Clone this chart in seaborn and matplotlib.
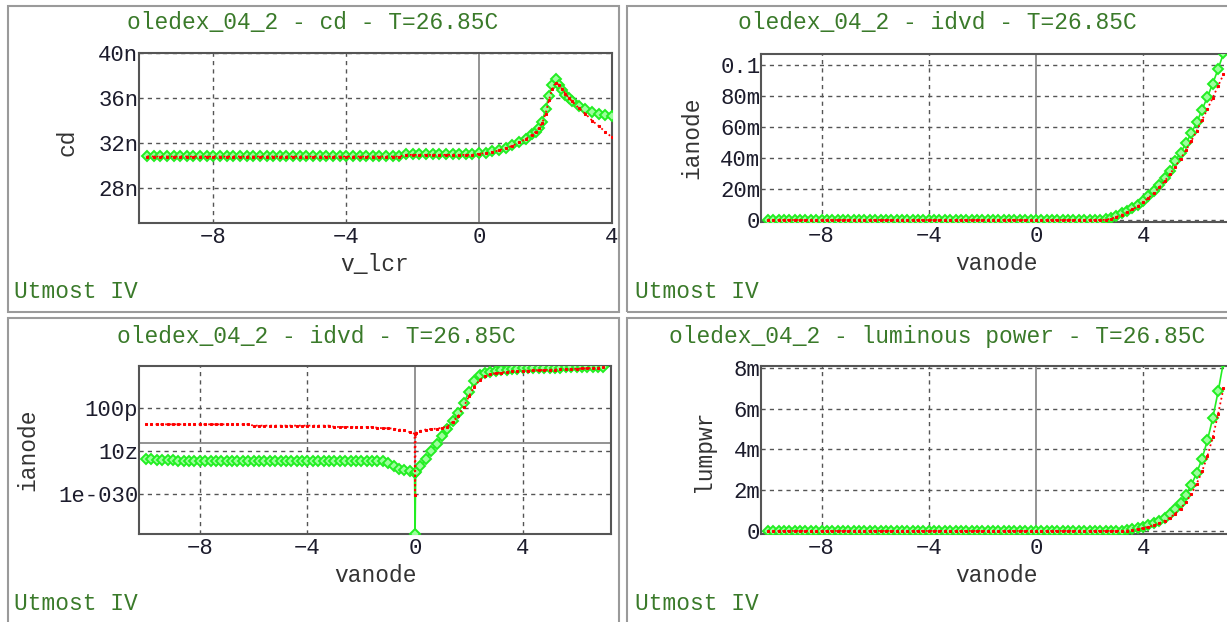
import numpy as np
import pandas as pd
import matplotlib
matplotlib.use("Agg")
import matplotlib.pyplot as plt
import seaborn as sns
from matplotlib.ticker import FixedLocator, FixedFormatter, MultipleLocator, NullLocator
from matplotlib.patches import Rectangle

# ---------------- data ----------------
# top-left: cd vs v_lcr  (values in nF units)
cd_v = [-10.0, -9.8, -9.6, -9.4, -9.2, -9.0, -8.8, -8.6, -8.4, -8.2, -8.0, -7.8, -7.6, -7.4, -7.2,
        -7.0, -6.8, -6.6, -6.4, -6.2, -6.0, -5.8, -5.6, -5.4, -5.2, -5.0, -4.8, -4.6, -4.4, -4.2,
        -4.0, -3.8, -3.6, -3.4, -3.2, -3.0, -2.8, -2.6, -2.4, -2.2, -2.0, -1.8, -1.6, -1.4, -1.2,
        -1.0, -0.8, -0.6, -0.4, -0.2, 0.0, 0.2, 0.4, 0.6, 0.8, 1.0, 1.2, 1.4, 1.6, 1.7, 1.8, 1.9,
        2.0, 2.1, 2.2, 2.3, 2.4, 2.5, 2.6, 2.7, 2.8, 3.0, 3.2, 3.4, 3.6, 3.8, 4.0]
cd_sim_n = [30.85, 30.85, 30.85, 30.85, 30.85, 30.85, 30.85, 30.85, 30.85, 30.85, 30.85, 30.85, 30.85,
            30.85, 30.85, 30.85, 30.85, 30.85, 30.85, 30.85, 30.85, 30.85, 30.85, 30.85, 30.85, 30.85,
            30.85, 30.85, 30.85, 30.85, 30.85, 30.85, 30.85, 30.85, 30.85, 30.85, 30.85, 30.85, 30.85,
            31.0, 31.0, 31.0, 31.0, 31.0, 31.0, 31.0, 31.0, 31.0, 31.0, 31.0, 31.1, 31.15, 31.25, 31.4,
            31.6, 31.8, 32.1, 32.4, 32.8, 33.0, 33.3, 33.9, 35.0, 36.2, 37.2, 37.65, 37.2, 36.7, 36.3,
            36.0, 35.7, 35.3, 35.0, 34.8, 34.6, 34.5, 34.4]
cd_meas_n = [30.8, 30.8, 30.8, 30.8, 30.8, 30.8, 30.8, 30.8, 30.8, 30.8, 30.8, 30.8, 30.8,
             30.8, 30.8, 30.8, 30.8, 30.8, 30.8, 30.8, 30.8, 30.8, 30.8, 30.8, 30.8, 30.8,
             30.8, 30.8, 30.8, 30.8, 30.8, 30.8, 30.8, 30.8, 30.8, 30.8, 30.8, 30.8, 30.8,
             30.95, 30.95, 30.95, 30.95, 30.95, 30.95, 30.95, 30.95, 30.95, 30.95, 30.95, 31.05, 31.1,
             31.2, 31.35, 31.55, 31.75, 32.05, 32.35, 32.75, 33.0, 33.3, 33.8, 34.6, 35.8, 36.8, 37.3,
             37.2, 36.8, 36.4, 36.0, 35.7, 35.1, 34.6, 34.0, 33.5, 33.0, 32.5]

# anode sweep for the two linear idvd / luminous power plots
va = [-10.0, -9.8, -9.6, -9.4, -9.2, -9.0, -8.8, -8.6, -8.4, -8.2, -8.0, -7.8, -7.6, -7.4, -7.2,
      -7.0, -6.8, -6.6, -6.4, -6.2, -6.0, -5.8, -5.6, -5.4, -5.2, -5.0, -4.8, -4.6, -4.4, -4.2,
      -4.0, -3.8, -3.6, -3.4, -3.2, -3.0, -2.8, -2.6, -2.4, -2.2, -2.0, -1.8, -1.6, -1.4, -1.2,
      -1.0, -0.8, -0.6, -0.4, -0.2, 0.0, 0.2, 0.4, 0.6, 0.8, 1.0, 1.2, 1.4, 1.6, 1.8, 2.0, 2.2,
      2.4, 2.6, 2.8, 3.0, 3.2, 3.4, 3.6, 3.8, 4.0, 4.2, 4.4, 4.6, 4.8, 5.0, 5.2, 5.4, 5.6, 5.8,
      6.0, 6.2, 6.4, 6.6, 6.8, 7.0]
ia_sim_m = [
    0.0, 0.0, 0.0, 0.0, 0.0, 0.0, 0.0, 0.0, 0.0, 0.0, 0.0, 0.0, 0.0, 0.0, 0.0, 0.0, 0.0, 0.0, 0.0, 0.0,
    0.0, 0.0, 0.0, 0.0, 0.0, 0.0, 0.0, 0.0, 0.0, 0.0, 0.0, 0.0, 0.0, 0.0, 0.0, 0.0, 0.0, 0.0, 0.0, 0.0,
    0.0, 0.0, 0.0, 0.0, 0.0, 0.0, 0.0, 0.0, 0.0, 0.0, 0.0, 0.0, 0.0, 0.0, 0.0, 0.0, 0.0, 0.0, 0.0, 0.0,
    0.0, 0.0, 0.0,
    0.5, 1.5, 2.8, 4.2, 5.8, 7.5, 9.8, 12.5, 15.5, 18.8, 22.5, 27.0, 31.5, 38.0, 43.5, 49.5, 56.0,
    63.0, 71.0, 79.5, 88.0, 97.5, 107.5]
ia_meas_m = [
    0.0, 0.0, 0.0, 0.0, 0.0, 0.0, 0.0, 0.0, 0.0, 0.0, 0.0, 0.0, 0.0, 0.0, 0.0, 0.0, 0.0, 0.0, 0.0, 0.0,
    0.0, 0.0, 0.0, 0.0, 0.0, 0.0, 0.0, 0.0, 0.0, 0.0, 0.0, 0.0, 0.0, 0.0, 0.0, 0.0, 0.0, 0.0, 0.0, 0.0,
    0.0, 0.0, 0.0, 0.0, 0.0, 0.0, 0.0, 0.0, 0.0, 0.0, 0.0, 0.0, 0.0, 0.0, 0.0, 0.0, 0.0, 0.0, 0.0, 0.0,
    0.0, 0.0, 0.0,
    0.2, 0.8, 2.0, 3.4, 5.0, 6.8, 8.8, 11.5, 14.3, 17.5, 21.0, 25.0, 29.5, 34.5, 39.5, 45.0, 51.0,
    57.5, 64.5, 71.5, 79.0, 86.5, 94.0]
lum_sim_m = [
    0.0, 0.0, 0.0, 0.0, 0.0, 0.0, 0.0, 0.0, 0.0, 0.0, 0.0, 0.0, 0.0, 0.0, 0.0, 0.0, 0.0, 0.0, 0.0, 0.0,
    0.0, 0.0, 0.0, 0.0, 0.0, 0.0, 0.0, 0.0, 0.0, 0.0, 0.0, 0.0, 0.0, 0.0, 0.0, 0.0, 0.0, 0.0, 0.0, 0.0,
    0.0, 0.0, 0.0, 0.0, 0.0, 0.0, 0.0, 0.0, 0.0, 0.0, 0.0, 0.0, 0.0, 0.0, 0.0, 0.0, 0.0, 0.0, 0.0, 0.0,
    0.0, 0.0, 0.0,
    0.0, 0.0, 0.0, 0.02, 0.05, 0.09, 0.14, 0.2, 0.28, 0.38, 0.5, 0.66, 0.85, 1.08, 1.38, 1.78, 2.25,
    2.85, 3.55, 4.45, 5.55, 6.85, 8.3]
lum_meas_m = [
    0.0, 0.0, 0.0, 0.0, 0.0, 0.0, 0.0, 0.0, 0.0, 0.0, 0.0, 0.0, 0.0, 0.0, 0.0, 0.0, 0.0, 0.0, 0.0, 0.0,
    0.0, 0.0, 0.0, 0.0, 0.0, 0.0, 0.0, 0.0, 0.0, 0.0, 0.0, 0.0, 0.0, 0.0, 0.0, 0.0, 0.0, 0.0, 0.0, 0.0,
    0.0, 0.0, 0.0, 0.0, 0.0, 0.0, 0.0, 0.0, 0.0, 0.0, 0.0, 0.0, 0.0, 0.0, 0.0, 0.0, 0.0, 0.0, 0.0, 0.0,
    0.0, 0.0, 0.0,
    0.0, 0.0, 0.0, 0.0, 0.02, 0.05, 0.09, 0.14, 0.2, 0.28, 0.38, 0.5, 0.65, 0.85, 1.1, 1.42, 1.82,
    2.32, 2.92, 3.68, 4.6, 5.75, 7.0]

# bottom-left: log idvd (log10 of ianode)
va_log = [-10.0, -9.8, -9.6, -9.4, -9.2, -9.0, -8.8, -8.6, -8.4, -8.2, -8.0, -7.8, -7.6, -7.4, -7.2,
          -7.0, -6.8, -6.6, -6.4, -6.2, -6.0, -5.8, -5.6, -5.4, -5.2, -5.0, -4.8, -4.6, -4.4, -4.2,
          -4.0, -3.8, -3.6, -3.4, -3.2, -3.0, -2.8, -2.6, -2.4, -2.2, -2.0, -1.8, -1.6, -1.4, -1.2,
          -1.0, -0.8, -0.6, -0.4, -0.2, -0.02, 0.0, 0.02, 0.2, 0.4, 0.6, 0.8, 1.0, 1.2, 1.4, 1.6, 1.8,
          2.0, 2.2, 2.4, 2.6, 2.8, 3.0, 3.2, 3.4, 3.6, 3.8, 4.0, 4.2, 4.4, 4.6, 4.8, 5.0, 5.2, 5.4,
          5.6, 5.8, 6.0, 6.2, 6.4, 6.6, 6.8, 7.0]
ia_sim_log10 = [-21.8, -21.9, -22.0, -22.0, -22.0, -22.0, -22.3, -22.3, -22.3, -22.3, -22.3, -22.3,
                -22.3, -22.3, -22.3, -22.3, -22.3, -22.3, -22.3, -22.3, -22.3, -22.3, -22.3, -22.3,
                -22.3, -22.3, -22.3, -22.3, -22.3, -22.3, -22.3, -22.3, -22.3, -22.3, -22.3, -22.3,
                -22.3, -22.3, -22.3, -22.3, -22.3, -22.3, -22.3, -22.3, -22.3,
                -22.8, -23.5, -24.1, -24.4, -24.7, -25.0, -39.3, -24.9,
                -23.6, -21.9, -20.1, -18.3, -16.6, -14.8, -13.0, -11.1, -8.9, -6.3, -3.8, -2.3, -1.8,
                -1.55, -1.4, -1.25, -1.1, -1.0, -0.9, -0.8, -0.75, -0.72, -0.7, -0.68, -0.65, -0.62,
                -0.6, -0.57, -0.55, -0.52, -0.5, -0.47, -0.45, -0.42, -0.4]
ia_meas_log10 = [-13.8, -13.8, -13.8, -13.8, -13.8, -13.8, -13.8, -13.8, -13.8, -13.8, -13.8, -13.8,
                 -13.8, -13.8, -13.8, -13.8, -13.8, -13.8, -13.8, -13.8,
                 -14.1, -14.1, -14.1, -14.1, -14.1, -14.1, -14.1, -14.1, -14.1, -14.1, -14.1, -14.1,
                 -14.1, -14.1, -14.1,
                 -14.4, -14.4, -14.4, -14.4, -14.4, -14.4, -14.4, -14.4,
                 -14.6, -14.7, -14.7, -14.8, -15.0, -15.2, -15.6, -16.0, -30.2, -15.8,
                 -15.3, -15.0, -14.9, -14.8, -14.6, -14.3, -13.2, -11.9, -9.8, -7.3, -5.0, -3.5, -2.6,
                 -2.1, -1.9, -1.75, -1.6, -1.5, -1.42, -1.35, -1.3, -1.25, -1.2, -1.15, -1.1, -1.05,
                 -1.0, -0.95, -0.9, -0.85, -0.8, -0.75, -0.7, -0.62, -0.55]

titles = ["oledex_04_2 - cd - T=26.85C", "oledex_04_2 - idvd - T=26.85C",
          "oledex_04_2 - idvd - T=26.85C", "oledex_04_2 - luminous power - T=26.85C"]
xlabels = ["v_lcr", "vanode", "vanode", "vanode"]
ylabels = ["cd", "ianode", "ianode", "lumpwr"]
footer = "Utmost IV"
x_tick_vals = [-8, -4, 0, 4]
x_tick_text = ["\u22128", "\u22124", "0", "4"]
cd_tick_vals = [28e-9, 32e-9, 36e-9, 40e-9]
cd_tick_text = ["28n", "32n", "36n", "40n"]
ia_tick_vals = [0.0, 0.02, 0.04, 0.06, 0.08, 0.1]
ia_tick_text = ["0", "20m", "40m", "60m", "80m", "0.1"]
log_tick_vals = [1e-30, 1e-20, 1e-10]
log_tick_text = ["1e-030", "10z", "100p"]
lum_tick_vals = [0.0, 0.002, 0.004, 0.006, 0.008]
lum_tick_text = ["0", "2m", "4m", "6m", "8m"]

# ---------------- styling ----------------
sns.set_theme(style="white")
plt.rcParams["font.family"] = ["Liberation Mono", "DejaVu Sans"]
plt.rcParams["axes.unicode_minus"] = True

W, H = 1227, 622
fig = plt.figure(figsize=(W / 100, H / 100), dpi=100)
fig.patch.set_facecolor("white")

TITLE_C = "#3a7a2a"
LABEL_C = "#333333"
TICK_C = "#1c1c2c"
GRID_C = "#555555"
GREEN = "#22ee22"
GREEN_FILL = "#9cff9c"
RED = "#ff0000"


def fx(x):
    return x / W


def fy(y):
    return 1 - y / H


# panel frames
for (x0, y0, x1, y1) in [(8, 6, 619, 312), (627, 6, 1245, 312), (8, 318, 619, 630), (627, 318, 1245, 630)]:
    fig.add_artist(Rectangle((fx(x0), fy(y1)), fx(x1 - x0), (y1 - y0) / H, fill=False,
                             ec="#9a9a9a", lw=1.5, transform=fig.transFigure))


def make_ax(l, t, r, b):
    return fig.add_axes([fx(l), fy(b), fx(r - l), (b - t) / H])


axes = [make_ax(139, 53, 612, 223), make_ax(761, 54, 1231, 222),
        make_ax(139, 366, 611, 534), make_ax(761, 366, 1231, 534)]


def draw(ax, x, g, r):
    sns.lineplot(x=x, y=g, ax=ax, color=GREEN, lw=1.2, marker="D", ms=5.5, mfc=GREEN_FILL,
                 mec=GREEN, mew=1.4, sort=False, estimator=None, zorder=3)
    sns.lineplot(x=x, y=r, ax=ax, color=RED, lw=1.3, ls=":", marker="s", ms=2.0,
                 mec=RED, mfc=RED, sort=False, estimator=None, zorder=4)


# top-left
ax = axes[0]
draw(ax, cd_v, np.array(cd_sim_n) * 1e-9, np.array(cd_meas_n) * 1e-9)
ax.set_xlim(-10.24, 4.0)
ax.set_ylim(24.89e-9, 40e-9)
ax.yaxis.set_major_locator(FixedLocator(cd_tick_vals))
ax.yaxis.set_major_formatter(FixedFormatter(cd_tick_text))
ax.yaxis.set_minor_locator(MultipleLocator(0.8e-9))

# top-right
ax = axes[1]
draw(ax, va, np.array(ia_sim_m) * 1e-3, np.array(ia_meas_m) * 1e-3)
ax.set_xlim(-10.26, 7.28)
ax.set_ylim(-0.0013, 0.1071)
ax.yaxis.set_major_locator(FixedLocator(ia_tick_vals))
ax.yaxis.set_major_formatter(FixedFormatter(ia_tick_text))
ax.yaxis.set_minor_locator(MultipleLocator(0.004))

# bottom-left (log)
ax = axes[2]
ax.set_yscale("log")
draw(ax, va_log, 10.0 ** np.array(ia_sim_log10), 10.0 ** np.array(ia_meas_log10))
ax.set_xlim(-10.26, 7.28)
ax.set_ylim(10 ** -39.3, 10 ** -0.23)
ax.yaxis.set_major_locator(FixedLocator(log_tick_vals))
ax.yaxis.set_major_formatter(FixedFormatter(log_tick_text))
ax.yaxis.set_minor_locator(NullLocator())
ax.axhline(10 ** -18.1, color="#8a8a8a", lw=1.3, zorder=2)

# bottom-right
ax = axes[3]
draw(ax, va, np.array(lum_sim_m) * 1e-3, np.array(lum_meas_m) * 1e-3)
ax.set_xlim(-10.26, 7.28)
ax.set_ylim(-0.00015, 0.0081)
ax.yaxis.set_major_locator(FixedLocator(lum_tick_vals))
ax.yaxis.set_major_formatter(FixedFormatter(lum_tick_text))
ax.yaxis.set_minor_locator(MultipleLocator(0.0004))

for i, ax in enumerate(axes):
    ax.set_xlabel("")
    ax.set_ylabel("")
    ax.xaxis.set_major_locator(FixedLocator(x_tick_vals))
    ax.xaxis.set_major_formatter(FixedFormatter(x_tick_text))
    ax.xaxis.set_minor_locator(MultipleLocator(0.8))
    for t in x_tick_vals:
        if t == 0:
            ax.axvline(0, color="#8a8a8a", lw=1.3, zorder=2)
        else:
            ax.axvline(t, color=GRID_C, lw=1.0, ls=(0, (3, 3)), zorder=1)
    for t in ax.yaxis.get_majorticklocs():
        ax.axhline(t, color=GRID_C, lw=1.0, ls=(0, (3, 3)), zorder=1)
    for s in ax.spines.values():
        s.set_color("#555555")
        s.set_linewidth(1.5)
    ax.tick_params(axis="both", which="major", direction="in", length=7, width=1.2,
                   color="#333333", labelcolor=TICK_C, labelsize=16)
    ax.tick_params(axis="both", which="minor", direction="in", length=3.5, width=1.0, color="#333333")
    ax.tick_params(axis="x", which="major", pad=3)
    ax.tick_params(axis="y", which="major", pad=0.5)
    ax.set_facecolor("white")

# texts
title_pos = [(313, 22), (937, 22), (316, 336), (937, 336)]
xlabel_pos = [(375, 264), (996, 264), (375, 576), (996, 576)]
ylabel_pos = [(67, 142), (692, 138), (28, 450), (704, 451)]
footer_pos = [(14, 291), (635, 291), (14, 603), (635, 603)]
for i in range(4):
    fig.text(fx(title_pos[i][0]), fy(title_pos[i][1]), titles[i], ha="center", va="center",
             fontsize=16.5, color=TITLE_C)
    fig.text(fx(xlabel_pos[i][0]), fy(xlabel_pos[i][1]), xlabels[i], ha="center", va="center",
             fontsize=16.5, color=LABEL_C)
    fig.text(fx(ylabel_pos[i][0]), fy(ylabel_pos[i][1]), ylabels[i], ha="center", va="center",
             fontsize=16.5, color=LABEL_C, rotation=90)
    fig.text(fx(footer_pos[i][0]), fy(footer_pos[i][1]), footer, ha="left", va="center",
             fontsize=16.5, color=TITLE_C)

fig.savefig("out.png", dpi=100, facecolor="white")
